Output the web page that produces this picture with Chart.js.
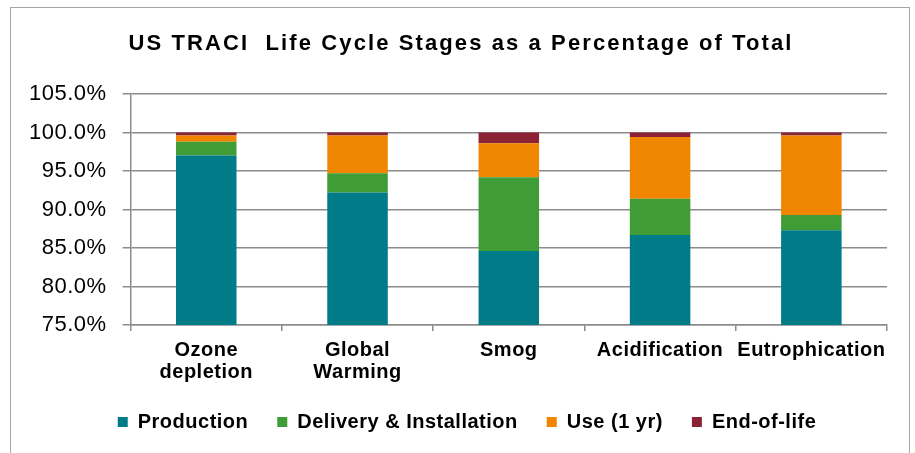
<!DOCTYPE html>
<html>
<head>
<meta charset="utf-8">
<script src="https://cdn.jsdelivr.net/npm/chart.js@4"></script>
<style>
  html, body { margin: 0; padding: 0; background: #fff; overflow: hidden; }
  #frame {
    position: absolute; left: 10px; top: 7px; width: 900px; height: 470px;
    border: 1px solid #a6a6a6; box-sizing: border-box;
  }
  #wrap { position: absolute; left: 0; top: 0; width: 915px; height: 453px; }
</style>
</head>
<body>
<div id="frame"></div>
<div id="wrap"><canvas id="chart"></canvas></div>
<script>
const categories = [['Ozone', 'depletion'], ['Global', 'Warming'], 'Smog', 'Acidification', 'Eutrophication'];
const production = [97.0, 92.2, 84.6, 86.7, 87.3];
const delivery = [1.8, 2.5, 9.6, 4.7, 2.0];
const use1yr = [0.8, 4.9, 4.4, 8.0, 10.3];
const endOfLife = [0.4, 0.4, 1.4, 0.6, 0.4];
const yTicks = [75, 80, 85, 90, 95, 100, 105];

const font = 'Liberation Sans, Arial, sans-serif';
const gridColor = '#8c8c8c';

function series(label, data, color) {
  return {
    label: label,
    data: data,
    backgroundColor: color,
    borderWidth: 0,
    barPercentage: 1,
    categoryPercentage: 0.4
  };
}

// the original text runs a bit wider than the plain fonts, so add some letter spacing,
// and nudge title and legend a little to the right like in the original
const tweaks = {
  id: 'tweaks',
  beforeLayout(chart) {
    chart.ctx.letterSpacing = '0.5px';
  },
  afterLayout(chart) {
    chart.legend.left += 11;
    chart.legend.right += 11;
    chart.titleBlock.left += 5;
    chart.titleBlock.right += 5;
  },
  beforeDraw(chart) {
    chart.ctx.letterSpacing = '0.5px';
    const title = chart.titleBlock;
    if (title && !title.spaced) {
      const draw = title.draw;
      title.draw = function () {
        this.ctx.letterSpacing = '2.1px';
        draw.apply(this, arguments);
        this.ctx.letterSpacing = '0.5px';
      };
      title.spaced = true;
    }
  }
};

const ctx = document.getElementById('chart').getContext('2d');
new Chart(ctx, {
  type: 'bar',
  data: {
    labels: categories,
    datasets: [
      series('Production', production, '#007b87'),
      series('Delivery & Installation', delivery, '#3f9c36'),
      series('Use (1 yr)', use1yr, '#f08600'),
      series('End-of-life', endOfLife, '#8c2334')
    ]
  },
  plugins: [tweaks],
  options: {
    responsive: true,
    maintainAspectRatio: false,
    animation: false,
    layout: { padding: { left: 25, right: 28, top: 0, bottom: 11 } },
    plugins: {
      tooltip: { enabled: false },
      title: {
        display: true,
        text: 'US TRACI  Life Cycle Stages as a Percentage of Total',
        color: '#000',
        font: { family: font, size: 22, weight: 'bold' },
        padding: { top: 31, bottom: 36.6 }
      },
      legend: {
        position: 'bottom',
        labels: {
          color: '#000',
          font: { family: font, size: 20, weight: 'bold' },
          boxWidth: 10,
          boxHeight: 10,
          padding: 29
        }
      }
    },
    scales: {
      x: {
        stacked: true,
        afterFit: s => { s.height -= 8; },
        border: { color: gridColor, width: 1.5 },
        grid: { drawOnChartArea: false, offset: true, color: gridColor, lineWidth: 1.5, tickLength: 6 },
        ticks: {
          color: '#000',
          font: { family: font, size: 20, weight: 'bold', lineHeight: 1.1 },
          maxRotation: 0,
          autoSkip: false,
          padding: 8
        }
      },
      y: {
        stacked: true,
        min: 75,
        max: 105,
        afterBuildTicks: axis => { axis.ticks = yTicks.map(v => ({ value: v })); },
        afterFit: s => { s.width -= 12; },
        border: { color: gridColor, width: 1.5 },
        grid: { color: gridColor, lineWidth: 1.5, tickLength: 8 },
        ticks: {
          color: '#000',
          font: { family: font, size: 22 },
          padding: 16,
          callback: v => v.toFixed(1) + '%'
        }
      }
    }
  }
});
</script>
</body>
</html>
